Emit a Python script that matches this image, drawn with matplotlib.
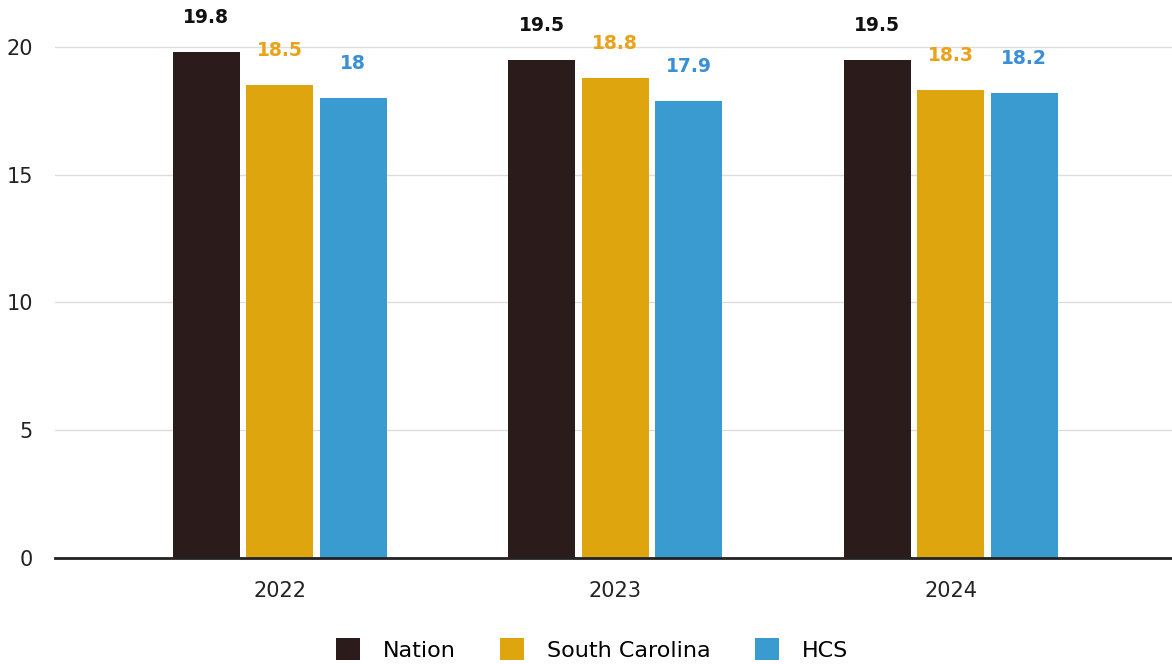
import numpy as np
import matplotlib
matplotlib.use('Agg')
import matplotlib.pyplot as plt
from matplotlib.patches import Patch

years = ['2022', '2023', '2024']
nation = [19.8, 19.5, 19.5]
south_carolina = [18.5, 18.8, 18.3]
hcs = [18.0, 17.9, 18.2]

series = [
    ('Nation', nation, '#2b1b1b', '#111111'),
    ('South Carolina', south_carolina, '#dea50f', '#eaa21a'),
    ('HCS', hcs, '#3a9bd0', '#3a90d6'),
]

plt.rcParams['font.family'] = ['DejaVu Sans']

fig = plt.figure(figsize=(11.72, 6.64), dpi=100)
ax = fig.add_axes([0.047, 0.16, 0.953, 0.84])

x = np.arange(len(years))
width = 0.2
step = 0.219

for i, (name, vals, color, label_color) in enumerate(series):
    pos = x + (i - 1) * step
    bars = ax.bar(pos, vals, width, color=color, zorder=3)
    for b, v in zip(bars, vals):
        txt = f'{v:g}'
        ax.annotate(txt, (b.get_x() + b.get_width() / 2, v),
                    xytext=(0, 18), textcoords='offset points',
                    ha='center', va='bottom', fontsize=13.5, fontweight='bold',
                    color=label_color)

ax.set_xlim(-0.67, 2.66)
ax.set_ylim(0, 21.84)
ax.set_yticks([0, 5, 10, 15, 20])
ax.set_xticks(x)
ax.set_xticklabels(years)
ax.tick_params(axis='both', length=0, labelsize=15, colors='#222222')
ax.tick_params(axis='y', pad=16)
ax.tick_params(axis='x', pad=17)
ax.grid(True, axis='y', color='#dddddd', linewidth=1, zorder=0)
for s in ['top', 'right', 'left', 'bottom']:
    ax.spines[s].set_visible(False)
ax.axhline(0, color='#222222', linewidth=2.0, zorder=4, clip_on=False)

handles = [Patch(facecolor=c, label=n) for n, _, c, _ in series]
fig.legend(handles=handles, loc='lower center', bbox_to_anchor=(0.505, -0.025),
           ncol=3, frameon=False, fontsize=16, handlelength=1.1, handleheight=1.1,
           columnspacing=2.0, handletextpad=1.0)

plt.savefig('out.png', dpi=100)
plt.close()
